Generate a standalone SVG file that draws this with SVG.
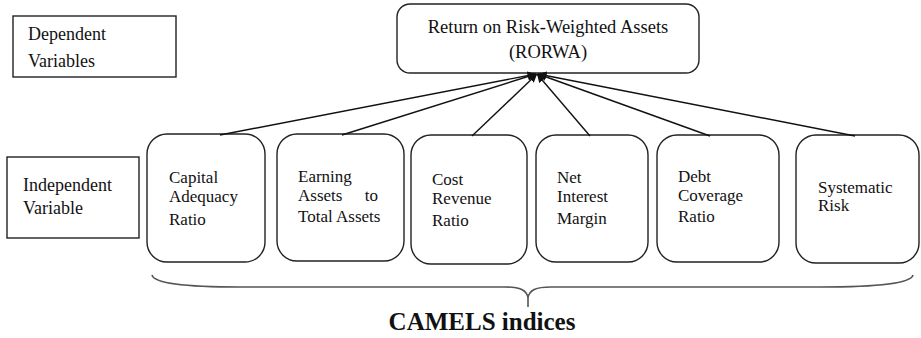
<svg xmlns="http://www.w3.org/2000/svg" width="921" height="338" viewBox="0 0 921 338">
<style>
  .box { fill: #fff; stroke: #222; stroke-width: 1.4; }
  .t { font-size: 17px; }
  .side { font-size: 18px; }
  .title { font-size: 18.5px; }
  .camels { font-size: 25px; font-weight: bold; }
  .arrow { stroke: #111; stroke-width: 1.4; fill: none; marker-end: url(#ah); }
  .brace { stroke: #555; stroke-width: 1.6; fill: none; }
</style>
<defs>
  <marker id="ah" viewBox="0 0 10 10" refX="10" refY="5" markerWidth="6" markerHeight="6" markerUnits="strokeWidth" orient="auto">
    <path d="M0,0 L10,5 L0,10 z" fill="#111"/>
  </marker>
</defs>
<rect width="921" height="338" fill="#fff"/>
<g font-family="Liberation Serif, DejaVu Serif, serif" fill="#111">

<g id="dependent-label">
  <rect class="box" x="13" y="16" width="163" height="61"/>
  <text class="side" x="28" y="40">Dependent</text>
  <text class="side" x="28" y="67">Variables</text>
</g>

<g id="rorwa">
  <rect class="box" x="397" y="4" width="302" height="69" rx="13"/>
  <text class="title" x="548" y="33" text-anchor="middle">Return on Risk-Weighted Assets</text>
  <text class="title" x="548" y="58" text-anchor="middle">(RORWA)</text>
</g>

<g id="independent-label">
  <rect class="box" x="7" y="157" width="132" height="81"/>
  <text class="side" x="23" y="191">Independent</text>
  <text class="side" x="23" y="214">Variable</text>
</g>

<g id="capital">
  <rect class="box" x="147" y="134" width="118" height="128" rx="20"/>
  <text class="t" x="169" y="183">Capital</text>
  <text class="t" x="169" y="202">Adequacy</text>
  <text class="t" x="169" y="225">Ratio</text>
</g>

<g id="earning">
  <rect class="box" x="277" y="134" width="127" height="127" rx="20"/>
  <text class="t" x="298" y="182">Earning</text>
  <text class="t" x="298" y="201">Assets</text>
  <text class="t" x="378" y="201" text-anchor="end">to</text>
  <text class="t" x="298" y="222">Total Assets</text>
</g>

<g id="cost">
  <rect class="box" x="411" y="135" width="116" height="129" rx="20"/>
  <text class="t" x="432" y="185">Cost</text>
  <text class="t" x="432" y="204">Revenue</text>
  <text class="t" x="432" y="226">Ratio</text>
</g>

<g id="nim">
  <rect class="box" x="536" y="135" width="112" height="127" rx="20"/>
  <text class="t" x="557" y="183">Net</text>
  <text class="t" x="557" y="202">Interest</text>
  <text class="t" x="557" y="224">Margin</text>
</g>

<g id="debt">
  <rect class="box" x="657" y="135" width="122" height="127" rx="20"/>
  <text class="t" x="678" y="182">Debt</text>
  <text class="t" x="678" y="201">Coverage</text>
  <text class="t" x="678" y="222">Ratio</text>
</g>

<g id="systematic">
  <rect class="box" x="796" y="135" width="123" height="128" rx="20"/>
  <text class="t" x="818" y="193">Systematic</text>
  <text class="t" x="818" y="211">Risk</text>
</g>

<g id="connectors">
  <line class="arrow" x1="220" y1="135" x2="536" y2="74"/>
  <line class="arrow" x1="342" y1="135" x2="536" y2="74"/>
  <line class="arrow" x1="472" y1="136" x2="537" y2="74"/>
  <line class="arrow" x1="590" y1="136" x2="537" y2="74"/>
  <line class="arrow" x1="710" y1="136" x2="538" y2="74"/>
  <line class="arrow" x1="855" y1="136" x2="538" y2="74"/>
</g>

<g id="brace-group">
  <path class="brace" d="M152,275 C154,284 190,287 240,287 L505,287 C520,287 527,290 528,298 C529,290 536,287 551,287 L820,287 C870,287 911,284 913,275"/>
  <line class="brace" x1="528" y1="298" x2="528" y2="307"/>
  <text class="camels" x="482" y="330" text-anchor="middle">CAMELS indices</text>
</g>
</g>
</svg>
